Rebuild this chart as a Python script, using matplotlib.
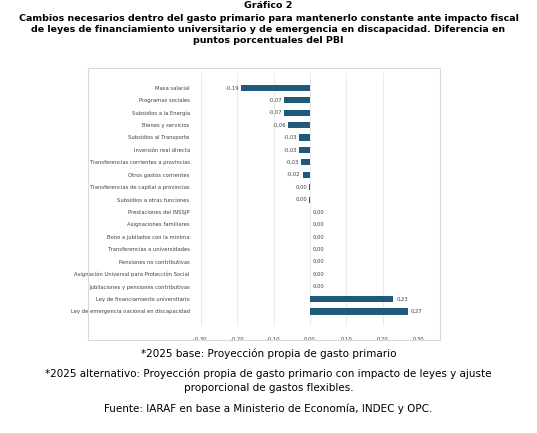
import matplotlib.pyplot as plt
from matplotlib.patches import Rectangle

categorias = ["Masa salarial", "Programas sociales", "Subsidios a la Energía", "Bienes y servicios",
              "Subsidios al Transporte", "Inversión real directa", "Transferencias corrientes a provincias",
              "Otros gastos corrientes", "Transferencias de capital a provincias", "Subsidios a otras funciones",
              "Prestaciones del INSSJP", "Asignaciones familiares", "Bono a jubilados con la mínima",
              "Transferencias a universidades", "Pensiones no contributivas",
              "Asignación Universal para Protección Social", "Jubilaciones y pensiones contributivas",
              "Ley de financiamiento universitario", "Ley de emergencia nacional en discapacidad"]
valores = [-0.19, -0.07, -0.07, -0.06, -0.03, -0.03, -0.025, -0.02, -0.002, -0.001,
           0, 0, 0, 0, 0, 0, 0, 0.23, 0.27]
etiquetas = ["-0,19", "-0,07", "-0,07", "-0,06", "-0,03", "-0,03", "-0,03", "-0,02", "0,00", "0,00",
             "0,00", "0,00", "0,00", "0,00", "0,00", "0,00", "0,00", "0,23", "0,27"]
ticks = [-0.3, -0.2, -0.1, 0, 0.1, 0.2, 0.3]

fig = plt.figure(figsize=(5.37, 4.33), dpi=100)
fig.patches.append(Rectangle((88/537, 1-340/433), 352/537, 272/433, transform=fig.transFigure,
                             fill=False, edgecolor="#d9d9d9", lw=0.8))
ax = fig.add_axes([0.374, 0.247, 0.406, 0.584])
y = list(range(len(categorias)))
ax.barh(y, valores, height=0.5, color="#1f5a7a")
for yi, v, t in zip(y, valores, etiquetas):
    if v < 0:
        ax.text(v - 0.005, yi, t, ha="right", va="center", fontsize=3.8, color="#404040")
    else:
        ax.text(v + 0.008, yi, t, ha="left", va="center", fontsize=3.8, color="#404040")
ax.set_yticks(y)
ax.set_yticklabels(categorias, fontsize=3.8, color="#404040")
ax.invert_yaxis()
ax.set_xlim(-0.3, 0.3)
ax.set_xticks(ticks)
ax.set_xticklabels([f"{t:.2f}".replace(".", ",") for t in ticks], fontsize=3.8, color="#404040")
ax.xaxis.grid(True, color="#e6e6e6", lw=0.6)
ax.set_axisbelow(True)
ax.tick_params(length=0, pad=8)
for s in ax.spines.values():
    s.set_visible(False)

fig.text(0.5, 0.998, "Gráfico 2", ha="center", va="top", fontsize=6.8, fontweight="bold")
fig.text(0.5, 0.968, "Cambios necesarios dentro del gasto primario para mantenerlo constante ante impacto fiscal\n"
         "de leyes de financiamiento universitario y de emergencia en discapacidad. Diferencia en\n"
         "puntos porcentuales del PBI", ha="center", va="top", fontsize=6.8, fontweight="bold",
         linespacing=1.3)
fig.text(0.5, 0.195, "*2025 base: Proyección propia de gasto primario", ha="center", va="top", fontsize=7.5)
fig.text(0.5, 0.148, "*2025 alternativo: Proyección propia de gasto primario con impacto de leyes y ajuste\n"
         "proporcional de gastos flexibles.", ha="center", va="top", fontsize=7.5, linespacing=1.4)
fig.text(0.5, 0.068, "Fuente: IARAF en base a Ministerio de Economía, INDEC y OPC.", ha="center", va="top",
         fontsize=7.5)
fig.savefig("out.png", dpi=100)
